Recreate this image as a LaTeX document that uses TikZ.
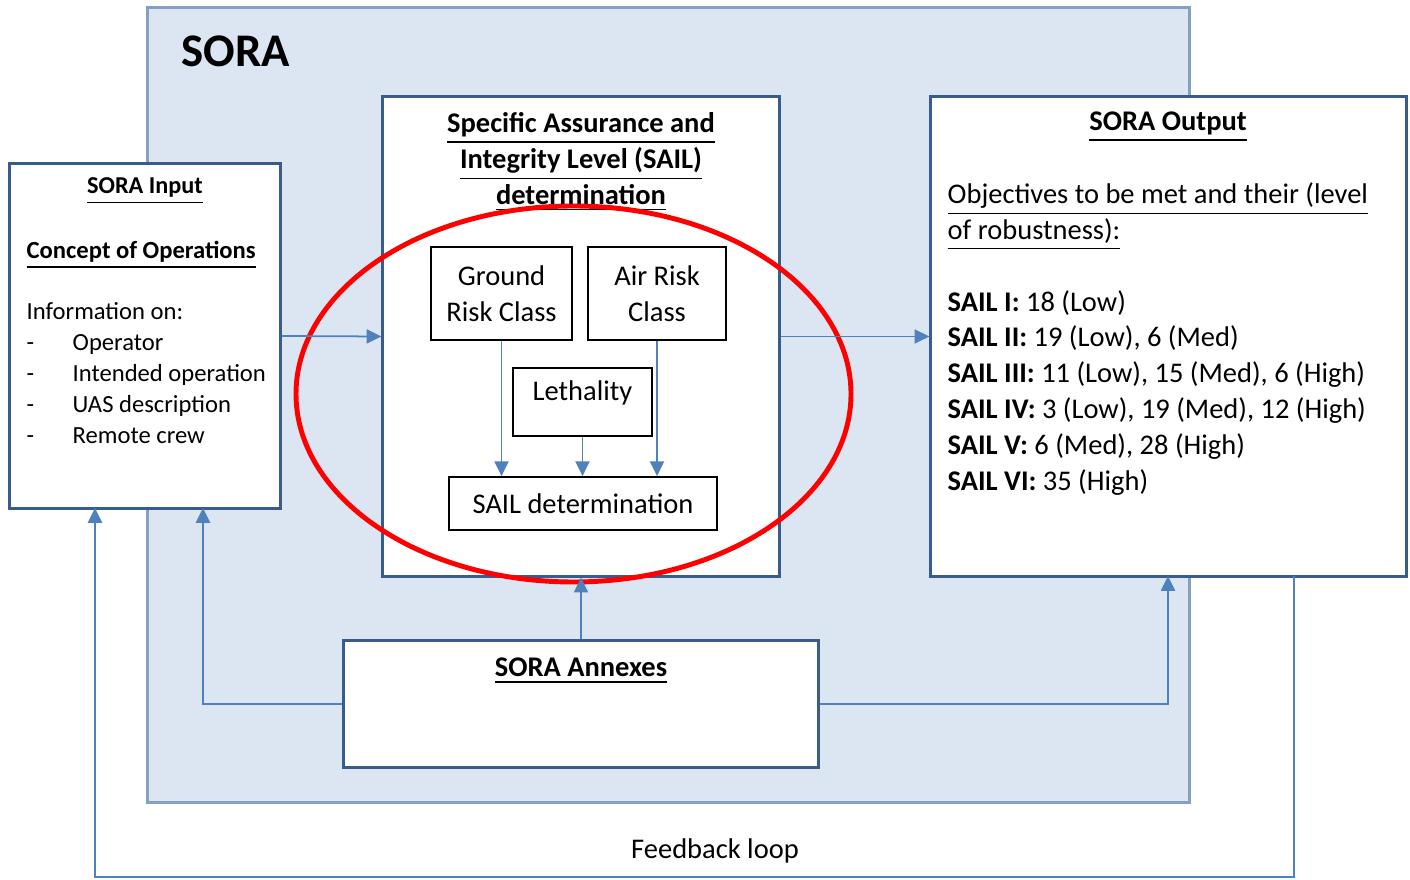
\documentclass[tikz,border=0pt]{standalone}
\usepackage{fontspec}
\setmainfont{Carlito}
\usetikzlibrary{arrows.meta,positioning}
\definecolor{sora_fill}{RGB}{220,230,242}
\definecolor{sora_frame}{RGB}{133,160,193}
\definecolor{box_frame}{RGB}{56,93,138}
\definecolor{link_blue}{RGB}{79,129,189}
\definecolor{ring_red}{RGB}{255,0,0}
\tikzstyle{mainbox}=[rectangle,draw=box_frame,fill=white,
  line width=0.85pt,inner sep=0pt]
\tikzstyle{subbox}=[rectangle,draw=black,fill=white,
  line width=0.5pt,inner sep=0pt,align=center,font=\fontsize{8.1}{10.2}\selectfont]
\tikzstyle{link}=[draw=link_blue,line width=0.5pt,
  -{Triangle[length=4.2pt,width=4pt]}]
\tikzstyle{txt}=[inner sep=0pt,align=left]

\begin{document}
\begin{tikzpicture}[x=0.01cm,y=-0.01cm]
    \useasboundingbox (0,0) rectangle (1410,880);
    % frame
    \node [fill=sora_fill,draw=sora_frame,line width=0.85pt,inner sep=0pt,
      minimum width=10.41cm,minimum height=7.94cm] (sora) at (668.5,405) {};
    \node [txt,anchor=west,font=\fontsize{13.3}{16}\selectfont\bfseries] (soratitle) at (181,51) {SORA};
    % main boxes
    \node [style=mainbox,minimum width=2.70cm,minimum height=3.44cm] (input) at (145,336) {};
    \node [style=mainbox,minimum width=3.96cm,minimum height=4.79cm] (sail) at (581,336.5) {};
    \node [style=mainbox,minimum width=4.75cm,minimum height=4.79cm] (output) at (1168.5,336.5) {};
    \node [style=mainbox,minimum width=4.74cm,minimum height=1.26cm] (annex) at (581,704) {};
    % texts
    \node [txt,font=\fontsize{6.9}{8.4}\selectfont\bfseries] (inhead) at (145,191) {\underline{SORA Input}};
    \node [txt,anchor=north west,font=\fontsize{7}{8.8}\selectfont] (inbody) at (26,240)
      {\textbf{\underline{Concept of Operations}}\\[8.8pt]
       Information on:\\
       \makebox[0.46cm][l]{-}Operator\\
       \makebox[0.46cm][l]{-}Intended operation\\
       \makebox[0.46cm][l]{-}UAS description\\
       \makebox[0.46cm][l]{-}Remote crew};
    \node [txt,align=center,anchor=north,font=\fontsize{8.1}{10.2}\selectfont\bfseries] (sailhead) at (581,112)
      {\underline{Specific Assurance and}\\
       \underline{Integrity Level (SAIL)}\\
       \underline{determination}};
    \node [txt,font=\fontsize{8.1}{10.2}\selectfont\bfseries] (outhead) at (1168,127) {\underline{SORA Output}};
    \node [txt,anchor=north west,font=\fontsize{8.1}{10.2}\selectfont] (outbody) at (947,182)
      {\underline{Objectives to be met and their (level}\\
       \underline{of robustness):}\\[10.2pt]
       \textbf{SAIL I:} 18 (Low)\\
       \textbf{SAIL II:} 19 (Low), 6 (Med)\\
       \textbf{SAIL III:} 11 (Low), 15 (Med), 6 (High)\\
       \textbf{SAIL IV:} 3 (Low), 19 (Med), 12 (High)\\
       \textbf{SAIL V:} 6 (Med), 28 (High)\\
       \textbf{SAIL VI:} 35 (High)};
    \node [txt,font=\fontsize{8.1}{10.2}\selectfont\bfseries] (annexhead) at (581,671) {\underline{SORA Annexes}};
    % inner boxes
    \node [style=subbox,minimum width=1.41cm,minimum height=0.93cm] (ground) at (501.5,293.5) {Ground\\Risk Class};
    \node [style=subbox,minimum width=1.38cm,minimum height=0.93cm] (air) at (657,293.5) {Air Risk\\Class};
    \node [style=subbox,minimum width=1.39cm,minimum height=0.68cm,text depth=0.23cm] (leth) at (582.5,402) {Lethality};
    \node [style=subbox,minimum width=2.68cm,minimum height=0.53cm] (saildet) at (583,503.5) {SAIL determination};
    \draw [style=link] (ground.south) to (ground.south |- saildet.north);
    \draw [style=link] (leth.south) to (leth.south |- saildet.north);
    \draw [style=link] (air.south) to (air.south |- saildet.north);
    % ring
    \draw [ring_red,line width=1.4pt] (573.5,394) ellipse [x radius=277.5,y radius=188];
    % links
    \coordinate (inhook) at (203,508);
    \coordinate (outhook) at (1168,576);
    \coordinate (fbstart) at (1294,576);
    \coordinate (fbcorner) at (95,877);
    \coordinate (fbend) at (95,508);
    \draw [style=link] (input.east) to (sail.west);
    \draw [style=link] (sail.east) to (output.west);
    \draw [style=link] (annex.north) to (sail.south);
    \draw [style=link] (annex.west) -| (inhook);
    \draw [style=link] (annex.east) -| (outhook);
    \draw [style=link] (fbstart) |- (fbcorner) -- (fbend);
    \node [txt,font=\fontsize{8.1}{10.2}\selectfont] (fblabel) at (715,851) {Feedback loop};
\end{tikzpicture}
\end{document}
